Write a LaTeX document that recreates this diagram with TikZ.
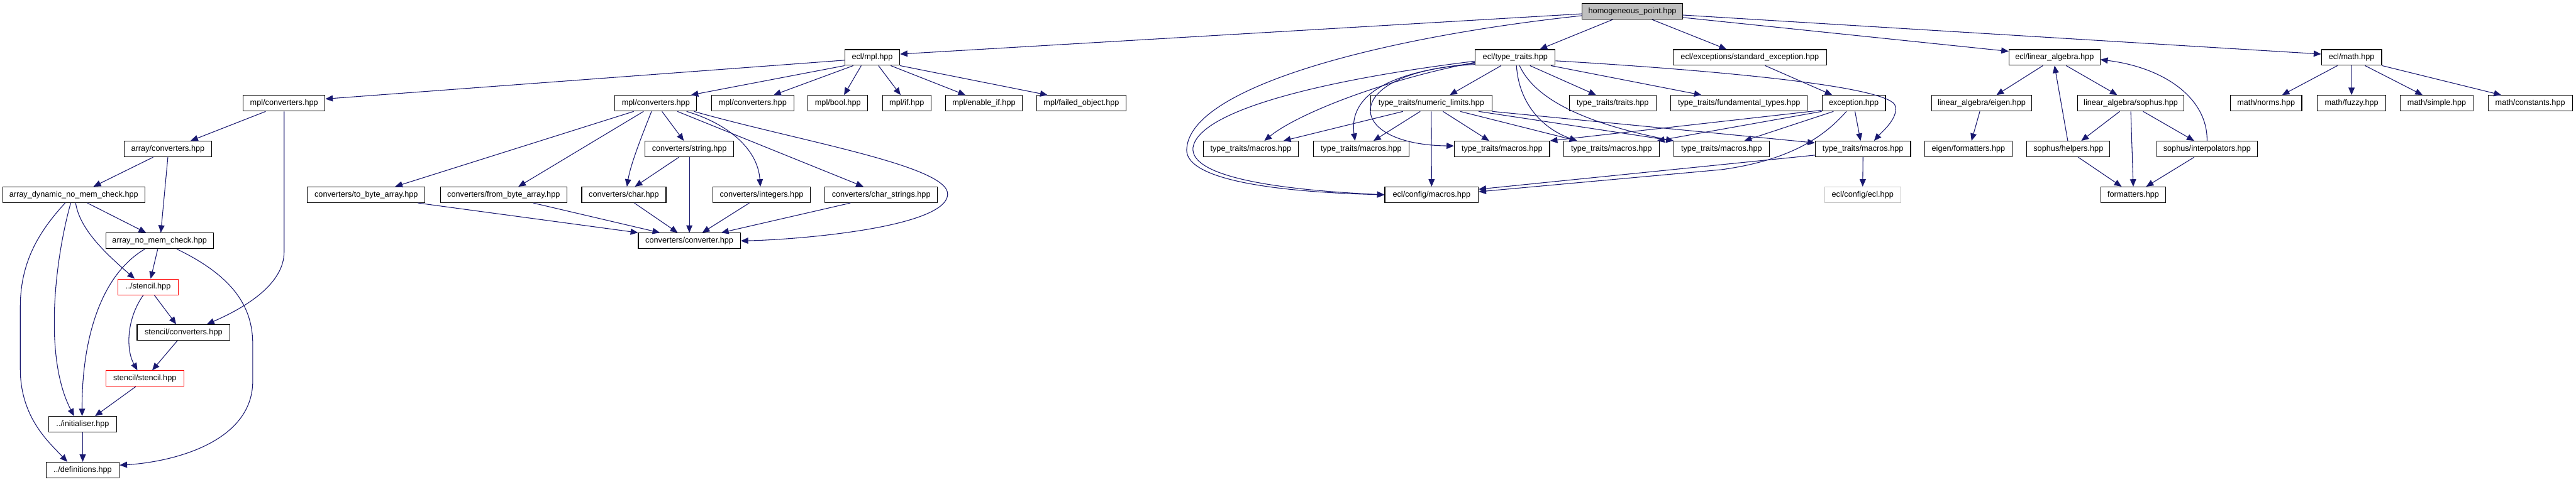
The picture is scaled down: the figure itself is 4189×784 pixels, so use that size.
\documentclass[tikz,border=0pt]{standalone}
\usepackage{fontspec}
\setmainfont{Liberation Sans}
\usetikzlibrary{arrows.meta}
\definecolor{edgecol}{HTML}{191970}
\definecolor{grayfill}{HTML}{BFBFBF}
\definecolor{lightborder}{HTML}{BFBFBF}
\begin{document}
\begin{tikzpicture}[x=1pt,y=-1pt,
  nd/.style={draw=black, line width=1.2pt, fill=white, minimum height=25.5pt, inner sep=0pt, font=\fontsize{13}{15}\selectfont},
  rednd/.style={nd, draw=red},
  greynd/.style={nd, draw=lightborder},
  e/.style={draw=edgecol, line width=1.1pt, -{Triangle[length=12pt,width=10pt]}}]
\useasboundingbox (0,0) rectangle (4189,784);
% level 0
\node[nd, fill=grayfill, minimum width=163pt] (homog) at (2654.5,18.5) {homogeneous\_point.hpp};
% level 1
\node[nd, minimum width=89pt] (eclmpl) at (1418.5,93.5) {ecl/mpl.hpp};
\node[nd, minimum width=130pt] (ecltt) at (2464,93.5) {ecl/type\_traits.hpp};
\node[nd, minimum width=249pt] (stdexc) at (2845.5,93.5) {ecl/exceptions/standard\_exception.hpp};
\node[nd, minimum width=148pt] (ecllin) at (3341,93.5) {ecl/linear\_algebra.hpp};
\node[nd, minimum width=98pt] (eclmath) at (3824,93.5) {ecl/math.hpp};
% level 2
\node[nd, minimum width=133pt] (mplconvL) at (462,168) {mpl/converters.hpp};
\node[nd, minimum width=133pt] (mplconvM) at (1066.5,168) {mpl/converters.hpp};
\node[nd, minimum width=134pt] (mplconv2) at (1224,168) {mpl/converters.hpp};
\node[nd, minimum width=97pt] (mplbool) at (1362.5,168) {mpl/bool.hpp};
\node[nd, minimum width=79pt] (mplif) at (1474.5,168) {mpl/if.hpp};
\node[nd, minimum width=124pt] (mplenable) at (1600,168) {mpl/enable\_if.hpp};
\node[nd, minimum width=145pt] (mplfailed) at (1758.5,168) {mpl/failed\_object.hpp};
\node[nd, minimum width=197pt] (ttnum) at (2327.5,168) {type\_traits/numeric\_limits.hpp};
\node[nd, minimum width=141pt] (tttraits) at (2622.5,168) {type\_traits/traits.hpp};
\node[nd, minimum width=222pt] (ttfund) at (2828,168) {type\_traits/fundamental\_types.hpp};
\node[nd, minimum width=103pt] (exception) at (3014.5,168) {exception.hpp};
\node[nd, minimum width=163pt] (laeigen) at (3222.5,168) {linear\_algebra/eigen.hpp};
\node[nd, minimum width=173pt] (lasophus) at (3465,168) {linear\_algebra/sophus.hpp};
\node[nd, minimum width=116pt] (mnorms) at (3685,168) {math/norms.hpp};
\node[nd, minimum width=112pt] (mfuzzy) at (3824,168) {math/fuzzy.hpp};
\node[nd, minimum width=119pt] (msimple) at (3962.5,168) {math/simple.hpp};
\node[nd, minimum width=137pt] (mconst) at (4114.5,168) {math/constants.hpp};
% level 3
\node[nd, minimum width=142pt] (arrconv) at (273,242.5) {array/converters.hpp};
\node[nd, minimum width=144pt] (convstring) at (1121,242.5) {converters/string.hpp};
\node[nd, minimum width=154pt] (ttm1) at (2034,242.5) {type\_traits/macros.hpp};
\node[nd, minimum width=155pt] (ttm2) at (2213.5,242.5) {type\_traits/macros.hpp};
\node[nd, minimum width=155pt] (ttm3) at (2442.5,242.5) {type\_traits/macros.hpp};
\node[nd, minimum width=155pt] (ttm4) at (2620.5,242.5) {type\_traits/macros.hpp};
\node[nd, minimum width=155pt] (ttm5) at (2799.5,242.5) {type\_traits/macros.hpp};
\node[nd, minimum width=155pt] (ttm6) at (3029.5,242.5) {type\_traits/macros.hpp};
\node[nd, minimum width=142pt] (eigenfmt) at (3201,242.5) {eigen/formatters.hpp};
\node[nd, minimum width=135pt] (sophelp) at (3363.5,242.5) {sophus/helpers.hpp};
\node[nd, minimum width=164pt] (sophinterp) at (3589,242.5) {sophus/interpolators.hpp};
% level 4
\node[nd, minimum width=231pt] (arrdyn) at (120,317) {array\_dynamic\_no\_mem\_check.hpp};
\node[nd, minimum width=191pt] (tobyte) at (595.5,317) {converters/to\_byte\_array.hpp};
\node[nd, minimum width=206pt] (frombyte) at (819,317) {converters/from\_byte\_array.hpp};
\node[nd, minimum width=137pt] (convchar) at (1014.5,317) {converters/char.hpp};
\node[nd, minimum width=159pt] (convint) at (1238.5,317) {converters/integers.hpp};
\node[nd, minimum width=183pt] (convcharstr) at (1433,317) {converters/char\_strings.hpp};
\node[nd, minimum width=152pt] (eclcfgm) at (2328,317) {ecl/config/macros.hpp};
\node[greynd, minimum width=124pt] (eclcfg) at (3029,317) {ecl/config/ecl.hpp};
\node[nd, minimum width=106pt] (fmt) at (3469,317) {formatters.hpp};
% level 5+
\node[nd, minimum width=175pt] (arrnomem) at (259.5,392) {array\_no\_mem\_check.hpp};
\node[nd, minimum width=166pt] (convconv) at (1121,392) {converters/converter.hpp};
\node[rednd, minimum width=98pt] (stencil) at (241,467) {../stencil.hpp};
\node[nd, minimum width=151pt] (stconv) at (298.5,541) {stencil/converters.hpp};
\node[rednd, minimum width=127pt] (ststencil) at (235.5,616) {stencil/stencil.hpp};
\node[nd, minimum width=111pt] (init) at (134.5,690.5) {../initialiser.hpp};
\node[nd, minimum width=119pt] (defs) at (134.5,765) {../definitions.hpp};

% ---- edges from homogeneous_point
\draw[e] ([yshift=-4pt]homog.west) -- ([yshift=5.5pt]eclmpl.east);
\draw[e] ([yshift=-7pt]homog.west) .. controls (2250,60) and (1940,140) .. (1930,240) .. controls (1922,290) and (2060,312) .. (eclcfgm.west);
\draw[e] ([xshift=-32pt]homog.south) -- ([xshift=40pt]ecltt.north);
\draw[e] ([xshift=32pt]homog.south) -- ([xshift=-38pt]stdexc.north);
\draw[e] ([yshift=-10pt]homog.east) -- ([yshift=10pt]ecllin.west);
\draw[e] ([yshift=-6pt]homog.east) -- ([yshift=5.5pt]eclmath.west);

% ---- ecl/mpl
\draw[e] ([yshift=-4.5pt]eclmpl.west) -- ([yshift=7pt]mplconvL.east);
\draw[e] (eclmpl.south west) -- ([xshift=57pt]mplconvM.north);
\draw[e] ([xshift=-31pt]eclmpl.south) -- ([xshift=34pt]mplconv2.north);
\draw[e] ([xshift=-18pt]eclmpl.south) -- ([xshift=10pt]mplbool.north);
\draw[e] ([xshift=10pt]eclmpl.south) -- ([xshift=-10pt]mplif.north);
\draw[e] ([xshift=30pt]eclmpl.south) -- ([xshift=-30pt]mplenable.north);
\draw[e] (eclmpl.south east) -- ([xshift=-55pt]mplfailed.north);

% ---- left mpl/converters
\draw[e] ([xshift=-30pt]mplconvL.south) -- ([xshift=37pt]arrconv.north);
\draw[e] (mplconvL.south) -- (462,410) .. controls (462,462) and (400,500) .. ([xshift=38pt]stconv.north);
\draw[e] ([xshift=-24pt]arrconv.south) -- ([xshift=32pt]arrdyn.north);
\draw[e] (arrconv.south) -- ([xshift=2pt]arrnomem.north);
\draw[e] ([xshift=22pt]arrdyn.south) -- ([xshift=-22pt]arrnomem.north);
\draw[e] ([xshift=3pt]arrdyn.south) .. controls (130,375) and (175,415) .. ([xshift=-22pt]stencil.north);
\draw[e] ([xshift=-5pt]arrdyn.south) .. controls (90,420) and (70,580) .. ([xshift=-14pt]init.north);
\draw[e] ([xshift=-14pt]arrdyn.south) .. controls (60,380) and (33,430) .. (33,500) -- (33,600) .. controls (33,680) and (80,720) .. ([xshift=-25pt]defs.north);
\draw[e] ([xshift=-3pt]arrnomem.south) -- ([xshift=4pt]stencil.north);
\draw[e] ([xshift=-24pt]arrnomem.south) .. controls (160,450) and (133,560) .. ([xshift=-1pt]init.north);
\draw[e] ([xshift=28pt]arrnomem.south) .. controls (380,450) and (411,500) .. (411,560) -- (411,620) .. controls (411,720) and (280,752) .. ([yshift=8pt]defs.east);
\draw[e] ([xshift=10pt]stencil.south) -- ([xshift=-12pt]stconv.north);
\draw[e] ([xshift=-8pt]stencil.south) .. controls (205,520) and (205,570) .. ([xshift=-12pt]ststencil.north);
\draw[e] ([xshift=-10pt]stconv.south) -- ([xshift=12pt]ststencil.north);
\draw[e] ([xshift=-15pt]ststencil.south) -- ([xshift=20pt]init.north);
\draw[e] (init.south) -- (defs.north);

% ---- middle mpl/converters
\draw[e] ([xshift=-36pt]mplconvM.south) -- ([xshift=47pt]tobyte.north);
\draw[e] ([xshift=-20pt]mplconvM.south) -- ([xshift=24pt]frombyte.north);
\draw[e] ([xshift=-7pt]mplconvM.south) .. controls (1040,230) and (1025,270) .. ([xshift=5pt]convchar.north);
\draw[e] ([xshift=10pt]mplconvM.south) -- ([xshift=-9pt]convstring.north);
\draw[e] ([xshift=50pt]mplconvM.south) .. controls (1180,200) and (1232,240) .. ([xshift=-2pt]convint.north);
\draw[e] ([xshift=35pt]mplconvM.south) -- ([xshift=-29pt]convcharstr.north);
\draw[e] ([xshift=62pt]mplconvM.south) .. controls (1300,230) and (1545,270) .. (1541,317) .. controls (1537,370) and (1300,390) .. (convconv.east);
\draw[e] ([xshift=-17pt]convstring.south) -- ([xshift=18pt]convchar.north);
\draw[e] (convstring.south) -- (convconv.north);
\draw[e] ([xshift=48pt]frombyte.south) -- ([xshift=-48pt]convconv.north);
\draw[e] ([xshift=84pt]tobyte.south) -- (convconv.north west);
\draw[e] ([xshift=17pt]convchar.south) -- ([xshift=-19pt]convconv.north);
\draw[e] ([xshift=-20pt]convint.south) -- ([xshift=21pt]convconv.north);
\draw[e] ([xshift=-50pt]convcharstr.south) -- ([xshift=52pt]convconv.north);

% ---- ecl/type_traits
\draw[e] ([yshift=-6pt]ecltt.west) .. controls (2150,130) and (1950,180) .. (1940,240) .. controls (1935,285) and (2060,308) .. (eclcfgm.west);
\draw[e] ([yshift=-8pt]ecltt.west) .. controls (2250,130) and (2110,185) .. ([xshift=22pt]ttm1.north);
\draw[e] ([yshift=-10pt]ecltt.west) .. controls (2230,118) and (2195,170) .. ([xshift=-10pt]ttm2.north);
\draw[e] ([yshift=-11.5pt]ecltt.west) .. controls (2180,115) and (2180,235) .. ([yshift=5pt]ttm3.west);
\draw[e] ([xshift=-23pt]ecltt.south) -- ([xshift=30pt]ttnum.north);
\draw[e] ([xshift=2pt]ecltt.south) .. controls (2470,170) and (2510,210) .. ([xshift=-56pt]ttm4.north);
\draw[e] ([xshift=7pt]ecltt.south) .. controls (2500,170) and (2600,205) .. (ttm5.north west);
\draw[e] ([xshift=24pt]ecltt.south) -- ([xshift=-27pt]tttraits.north);
\draw[e] ([xshift=58pt]ecltt.south) -- ([xshift=-61pt]ttfund.north);
\draw[e] ([yshift=-5.5pt]ecltt.east) .. controls (2800,115) and (3060,140) .. (3081,170) .. controls (3090,190) and (3060,215) .. ([xshift=18pt]ttm6.north);

% ---- numeric_limits
\draw[e] ([xshift=-46pt]ttnum.south) -- ([xshift=53pt]ttm1.north);
\draw[e] ([xshift=-18pt]ttnum.south) -- ([xshift=20pt]ttm2.north);
\draw[e] (ttnum.south) -- (eclcfgm.north);
\draw[e] ([xshift=19pt]ttnum.south) -- ([xshift=-21pt]ttm3.north);
\draw[e] ([xshift=47pt]ttnum.south) -- ([xshift=-56pt]ttm4.north);
\draw[e] ([xshift=77pt]ttnum.south) -- (ttm5.north west);
\draw[e] (ttnum.south east) -- ([yshift=10pt]ttm6.west);

% ---- exceptions
\draw[e] ([xshift=25pt]stdexc.south) -- ([xshift=-35pt]exception.north);
\draw[e] ([yshift=2pt]exception.south west) -- (ttm3.north east);
\draw[e] (exception.south west) -- ([xshift=-4pt]ttm4.north east);
\draw[e] ([xshift=-33pt]exception.south) -- ([xshift=37pt]ttm5.north);
\draw[e] ([xshift=-12pt]exception.south) .. controls (2960,230) and (2900,262) .. (2800,276) -- ([yshift=5pt]eclcfgm.east);
\draw[e] ([xshift=2pt]exception.south) -- ([xshift=-4pt]ttm6.north);
\draw[e] ([yshift=-10pt]ttm6.west) -- ([yshift=9pt]eclcfgm.east);
\draw[e] (ttm6.south) -- (eclcfg.north);

% ---- linear algebra
\draw[e] ([xshift=-19pt]ecllin.south) -- ([xshift=24pt]laeigen.north);
\draw[e] ([xshift=19pt]ecllin.south) -- ([xshift=-22pt]lasophus.north);
\draw[e] ([xshift=-3pt]laeigen.south) -- ([xshift=5pt]eigenfmt.north);
\draw[e] ([xshift=-1pt]sophelp.north) -- (ecllin.south);
\draw[e] ([xshift=16pt]sophelp.south) -- ([xshift=-19pt]fmt.north);
\draw[e] ([xshift=-18pt]lasophus.south) -- ([xshift=21pt]sophelp.north);
\draw[e] (lasophus.south) -- (fmt.north);
\draw[e] ([xshift=20pt]lasophus.south) -- ([xshift=-21pt]sophinterp.north);
\draw[e] (sophinterp.north) .. controls (3590,160) and (3520,110) .. ([yshift=-3.5pt]ecllin.east);
\draw[e] ([xshift=-21pt]sophinterp.south) -- ([xshift=21pt]fmt.north);

% ---- math
\draw[e] ([xshift=-23pt]eclmath.south) -- ([xshift=26pt]mnorms.north);
\draw[e] (eclmath.south) -- (mfuzzy.north);
\draw[e] ([xshift=22pt]eclmath.south) -- ([xshift=-23pt]msimple.north);
\draw[e] (eclmath.south east) -- ([xshift=-47pt]mconst.north);
\end{tikzpicture}
\end{document}
